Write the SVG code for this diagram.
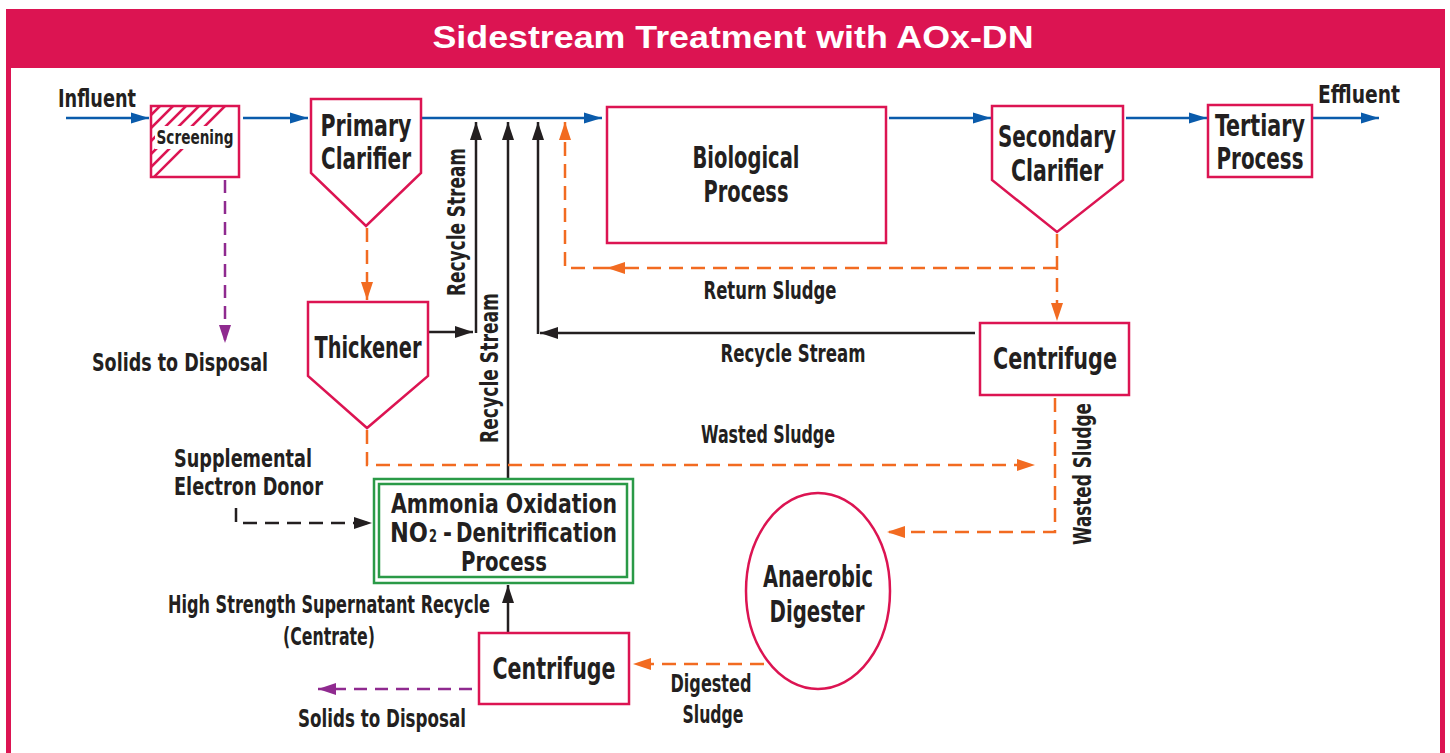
<svg xmlns="http://www.w3.org/2000/svg" width="1450" height="753" viewBox="0 0 1450 753">
<defs>
<style>
.t{font-family:"Liberation Sans Narrow","DejaVu Sans Condensed","Liberation Sans",sans-serif;font-weight:bold;fill:#231f20;}
.n{font-size:31px;text-anchor:middle;}
.l{font-size:25px;}
.c{text-anchor:middle;}
.node{fill:#fff;stroke:#dc1452;stroke-width:2.5;}
.grn{fill:none;stroke:#2a9a47;stroke-width:2.5;}
.blue{stroke:#0a5bab;stroke-width:2.5;fill:none;}
.blk{stroke:#231f20;stroke-width:2.5;fill:none;}
.or{stroke:#f26b21;stroke-width:2.5;fill:none;stroke-dasharray:14 8;}
.pu{stroke:#8f2a8f;stroke-width:2.5;fill:none;stroke-dasharray:13 8;}
.bd{stroke:#231f20;stroke-width:2.5;fill:none;stroke-dasharray:14 8;}
.hatch{stroke:#dc1452;stroke-width:2.5;}
</style>
<marker id="mb" markerUnits="userSpaceOnUse" markerWidth="18" markerHeight="12" refX="18" refY="6" orient="auto"><path d="M0,0.5 L18,6 L0,11.5 z" fill="#0a5bab"/></marker>
<marker id="mk" markerUnits="userSpaceOnUse" markerWidth="18" markerHeight="12" refX="18" refY="6" orient="auto"><path d="M0,0 L18,6 L0,12 z" fill="#231f20"/></marker>
<marker id="mo" markerUnits="userSpaceOnUse" markerWidth="18" markerHeight="12" refX="18" refY="6" orient="auto"><path d="M0,0 L18,6 L0,12 z" fill="#f26b21"/></marker>
<marker id="mp" markerUnits="userSpaceOnUse" markerWidth="18" markerHeight="12" refX="18" refY="6" orient="auto"><path d="M0,0 L18,6 L0,12 z" fill="#8f2a8f"/></marker>
<clipPath id="scrClip"><rect x="151" y="106" width="88" height="71"/></clipPath>
</defs>

<g id="frame">
<rect x="6" y="9" width="1439" height="760" fill="#dc1452"/>
<rect x="11" y="68" width="1429" height="700" fill="#fff"/>
<text x="733" y="48" font-family="'Liberation Sans',sans-serif" font-weight="bold" font-size="31" fill="#fff" text-anchor="middle" textLength="601" lengthAdjust="spacingAndGlyphs">Sidestream Treatment with AOx-DN</text>
</g>

<g id="connectors">
<path class="blue" d="M66,118 H149" marker-end="url(#mb)"/>
<path class="blue" d="M243,118 H308" marker-end="url(#mb)"/>
<path class="blue" d="M421,118 H602" marker-end="url(#mb)"/>
<path class="blue" d="M889,118 H991" marker-end="url(#mb)"/>
<path class="blue" d="M1126,118 H1207" marker-end="url(#mb)"/>
<path class="blue" d="M1313,118 H1379" marker-end="url(#mb)"/>

<path class="blk" d="M428,332 H473" marker-end="url(#mk)"/>
<path class="blk" d="M476,333 V122" marker-end="url(#mk)"/>
<path class="blk" d="M508,479 V122" marker-end="url(#mk)"/>
<path class="blk" d="M975,333 H540" marker-end="url(#mk)"/>
<path class="blk" d="M538,334 V122" marker-end="url(#mk)"/>
<path class="blk" d="M508,633 V585" marker-end="url(#mk)"/>

<path class="or" d="M367,228 V300" marker-end="url(#mo)"/>
<path class="or" d="M1057,234 V321" marker-end="url(#mo)"/>
<path class="or" d="M1057,268 H607" marker-end="url(#mo)"/>
<path class="or" d="M607,268 H565 V122" marker-end="url(#mo)"/>
<path class="or" d="M367,430 V465 H1035" marker-end="url(#mo)"/>
<path class="or" d="M1055,398 V532 H887" marker-end="url(#mo)"/>
<path class="or" d="M764,664 H633" marker-end="url(#mo)"/>

<path class="pu" d="M225,180 V343" marker-end="url(#mp)"/>
<path class="pu" d="M472,689 H318" marker-end="url(#mp)"/>

<path class="bd" d="M236,508 V523 H372" marker-end="url(#mk)"/>
</g>

<g id="labels">
<text class="t l" x="58" y="107" textLength="78" lengthAdjust="spacingAndGlyphs">Influent</text>
<text class="t l" x="1318" y="103" textLength="82" lengthAdjust="spacingAndGlyphs">Effluent</text>
<text class="t l" transform="translate(465,222) rotate(-90)" text-anchor="middle" textLength="148" lengthAdjust="spacingAndGlyphs">Recycle Stream</text>
<text class="t l" transform="translate(498,368) rotate(-90)" text-anchor="middle" textLength="150" lengthAdjust="spacingAndGlyphs">Recycle Stream</text>
<text class="t l" transform="translate(1091,474) rotate(-90)" text-anchor="middle" textLength="142" lengthAdjust="spacingAndGlyphs">Wasted Sludge</text>
<text class="t l c" x="770" y="299" textLength="133" lengthAdjust="spacingAndGlyphs">Return Sludge</text>
<text class="t l c" x="793" y="362" textLength="145" lengthAdjust="spacingAndGlyphs">Recycle Stream</text>
<text class="t l c" x="768" y="443" textLength="134" lengthAdjust="spacingAndGlyphs">Wasted Sludge</text>
<text class="t l c" x="180" y="371" textLength="176" lengthAdjust="spacingAndGlyphs">Solids to Disposal</text>
<text class="t l c" x="382" y="727" textLength="168" lengthAdjust="spacingAndGlyphs">Solids to Disposal</text>
<text class="t l" x="174" y="467" textLength="138" lengthAdjust="spacingAndGlyphs">Supplemental</text>
<text class="t l" x="174" y="495" textLength="149" lengthAdjust="spacingAndGlyphs">Electron Donor</text>
<text class="t l c" x="329" y="613" textLength="322" lengthAdjust="spacingAndGlyphs">High Strength Supernatant Recycle</text>
<text class="t l c" x="329" y="645" textLength="92" lengthAdjust="spacingAndGlyphs">(Centrate)</text>
<text class="t l c" x="711" y="692" textLength="81" lengthAdjust="spacingAndGlyphs">Digested</text>
<text class="t l c" x="713" y="723" textLength="61" lengthAdjust="spacingAndGlyphs">Sludge</text>
</g>

<g id="screening">
<rect class="node" x="151" y="106" width="88" height="71"/>
<g clip-path="url(#scrClip)">
<line class="hatch" x1="151" y1="115" x2="160" y2="106"/>
<line class="hatch" x1="151" y1="128" x2="173" y2="106"/>
<line class="hatch" x1="151" y1="141" x2="186" y2="106"/>
<line class="hatch" x1="151" y1="154" x2="199" y2="106"/>
<line class="hatch" x1="151" y1="167" x2="212" y2="106"/>
<line class="hatch" x1="151" y1="180" x2="225" y2="106"/>
</g>
<rect x="155" y="126" width="81" height="23" fill="#fff"/>
<text class="t c" x="195" y="144" font-size="20" textLength="77" lengthAdjust="spacingAndGlyphs">Screening</text>
</g>

<g id="primary-clarifier">
<polygon class="node" points="311,99 421,99 421,173 366,226 311,173"/>
<text class="t n" x="366" y="136" textLength="91" lengthAdjust="spacingAndGlyphs">Primary</text>
<text class="t n" x="366" y="169" textLength="90" lengthAdjust="spacingAndGlyphs">Clarifier</text>
</g>

<g id="biological-process">
<rect class="node" x="607" y="107" width="279" height="136"/>
<text class="t n" x="746" y="168" textLength="107" lengthAdjust="spacingAndGlyphs">Biological</text>
<text class="t n" x="746" y="202" textLength="85" lengthAdjust="spacingAndGlyphs">Process</text>
</g>

<g id="secondary-clarifier">
<polygon class="node" points="992,106 1123,106 1123,180 1057,232 992,180"/>
<text class="t n" x="1057" y="147" textLength="118" lengthAdjust="spacingAndGlyphs">Secondary</text>
<text class="t n" x="1057" y="181" textLength="92" lengthAdjust="spacingAndGlyphs">Clarifier</text>
</g>

<g id="tertiary-process">
<rect class="node" x="1208" y="105" width="104" height="72"/>
<text class="t n" x="1260" y="136" textLength="90" lengthAdjust="spacingAndGlyphs">Tertiary</text>
<text class="t n" x="1260" y="169" textLength="87" lengthAdjust="spacingAndGlyphs">Process</text>
</g>

<g id="thickener">
<polygon class="node" points="308,302 428,302 428,376 367,428 308,376"/>
<text class="t n" x="368" y="358" textLength="107" lengthAdjust="spacingAndGlyphs">Thickener</text>
</g>

<g id="centrifuge-1">
<rect class="node" x="980" y="323" width="149" height="72"/>
<text class="t n" x="1055" y="369" font-size="32" textLength="124" lengthAdjust="spacingAndGlyphs">Centrifuge</text>
</g>

<g id="aox-dn">
<rect x="374" y="479" width="259" height="104" fill="#fff" stroke="#2a9a47" stroke-width="2.5"/>
<rect class="grn" x="379" y="484" width="248" height="93"/>
<text class="t c" x="504" y="513" font-size="27" textLength="226" lengthAdjust="spacingAndGlyphs">Ammonia Oxidation</text>
<text class="t" x="390" y="542" font-size="27" textLength="38" lengthAdjust="spacingAndGlyphs">NO</text>
<text class="t" x="429" y="542" font-size="18" textLength="8" lengthAdjust="spacingAndGlyphs">2</text>
<text class="t" x="443" y="542" font-size="27" textLength="9" lengthAdjust="spacingAndGlyphs">-</text>
<text class="t" x="456" y="542" font-size="27" textLength="161" lengthAdjust="spacingAndGlyphs">Denitrification</text>
<text class="t c" x="504" y="571" font-size="27" textLength="86" lengthAdjust="spacingAndGlyphs">Process</text>
</g>

<g id="anaerobic-digester">
<ellipse class="node" cx="818" cy="591" rx="72" ry="98"/>
<text class="t n" x="818" y="587" textLength="110" lengthAdjust="spacingAndGlyphs">Anaerobic</text>
<text class="t n" x="817" y="622" textLength="95" lengthAdjust="spacingAndGlyphs">Digester</text>
</g>

<g id="centrifuge-2">
<rect class="node" x="479" y="633" width="150" height="71"/>
<text class="t n" x="554" y="679" font-size="32" textLength="123" lengthAdjust="spacingAndGlyphs">Centrifuge</text>
</g>
</svg>
